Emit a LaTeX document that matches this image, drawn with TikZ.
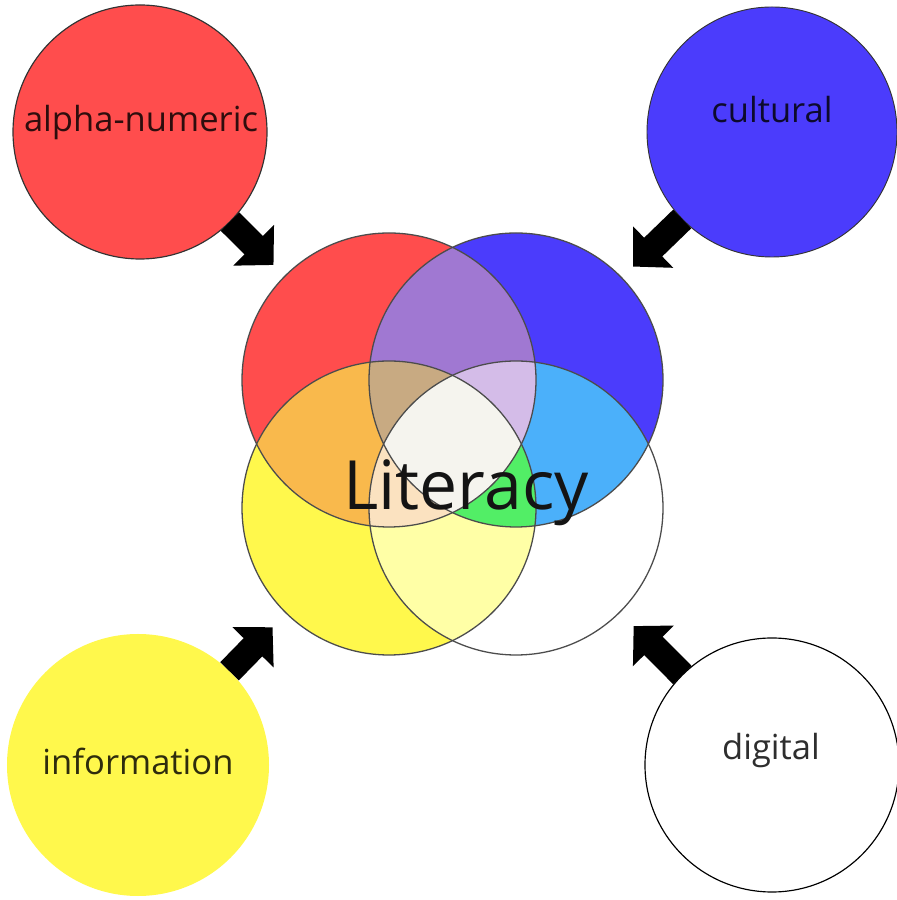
\documentclass[tikz,border=0pt]{standalone}
\usepackage{fontspec}
\setmainfont{Open Sans}
\usetikzlibrary{arrows.meta}

\definecolor{cRed}{HTML}{FF4D4D}
\definecolor{cBlue}{HTML}{4B3CFC}
\definecolor{cYel}{HTML}{FFF84C}
\definecolor{cRB}{HTML}{A078D2}
\definecolor{cRY}{HTML}{F9B94C}
\definecolor{cBW}{HTML}{4BB0FA}
\definecolor{cYW}{HTML}{FFFFA6}
\definecolor{cRBY}{HTML}{C8AA82}
\definecolor{cRBW}{HTML}{D4BCE8}
\definecolor{cRYW}{HTML}{FBE2C0}
\definecolor{cBYW}{HTML}{52EE66}
\definecolor{cAll}{HTML}{F5F4EE}

\tikzset{
  ring/.style={circle, inner sep=0pt, outer sep=0pt},
  word/.style={anchor=base, font=\fontsize{29.5}{32}\selectfont, text=black, text opacity=0.82},
  push/.style={-{Triangle[length=8.4mm,width=16.8mm]}, line width=7.8mm, black}
}

\begin{document}
\begin{tikzpicture}[x=0.3mm, y=0.3mm]
\useasboundingbox (0,0) rectangle (896,900);
\def\vr{147}

% centres of the four literacy circles
\coordinate (vR) at (389,520);
\coordinate (vB) at (516,520);
\coordinate (vY) at (389,392);
\coordinate (vW) at (516,392);

\fill [cRed] (vR) circle [radius=\vr];
\fill [cBlue] (vB) circle [radius=\vr];
\fill [cYel] (vY) circle [radius=\vr];
\fill [white] (vW) circle [radius=\vr];

\begin{scope}
  \clip (vR) circle [radius=\vr];
  \fill [cRB] (vB) circle [radius=\vr];
  \fill [cRY] (vY) circle [radius=\vr];
\end{scope}
\begin{scope}
  \clip (vW) circle [radius=\vr];
  \fill [cBW] (vB) circle [radius=\vr];
  \fill [cYW] (vY) circle [radius=\vr];
\end{scope}
\begin{scope}
  \clip (vR) circle [radius=\vr];
  \clip (vB) circle [radius=\vr];
  \fill [cRBY] (vY) circle [radius=\vr];
  \fill [cRBW] (vW) circle [radius=\vr];
\end{scope}
\begin{scope}
  \clip (vY) circle [radius=\vr];
  \clip (vW) circle [radius=\vr];
  \fill [cRYW] (vR) circle [radius=\vr];
  \fill [cBYW] (vB) circle [radius=\vr];
\end{scope}
\begin{scope}
  \clip (vR) circle [radius=\vr];
  \clip (vB) circle [radius=\vr];
  \clip (vY) circle [radius=\vr];
  \fill [cAll] (vW) circle [radius=\vr];
\end{scope}

\foreach \c in {vR,vB,vY,vW}
  \draw [black!70, line width=1.1pt] (\c) circle [radius=\vr];

\node [anchor=base, font=\fontsize{58}{60}\selectfont, text=black!92] (lit) at (466,390) {Literacy};

% outer circles
\node [ring, fill=cRed, draw=black!80, line width=1pt, minimum size=76.2mm] (alpha) at (140,768) {};
\node [ring, fill=cBlue, draw=black!80, line width=0.8pt, minimum size=75mm] (cult) at (772,768) {};
\node [ring, fill=cYel, minimum size=78.6mm] (info) at (138,135) {};
\node [ring, fill=white, draw=black, line width=1pt, minimum size=76.2mm] (digi) at (772,135) {};

\node [word] (alphaTxt) at (141,768) {alpha-numeric};
\node [word] (cultTxt) at (772,777) {cultural};
\node [word] (infoTxt) at (138,125) {information};
\node [word] (digiTxt) at (771,140) {digital};

% arrows towards the centre
\draw [push, shorten >=48.9mm] (alpha) -- (vR);
\draw [push, shorten >=48.9mm] (cult) -- (vB);
\draw [push, shorten >=50mm] (info) -- (vY);
\draw [push, shorten >=50mm] (digi) -- (vW);

\end{tikzpicture}
\end{document}
